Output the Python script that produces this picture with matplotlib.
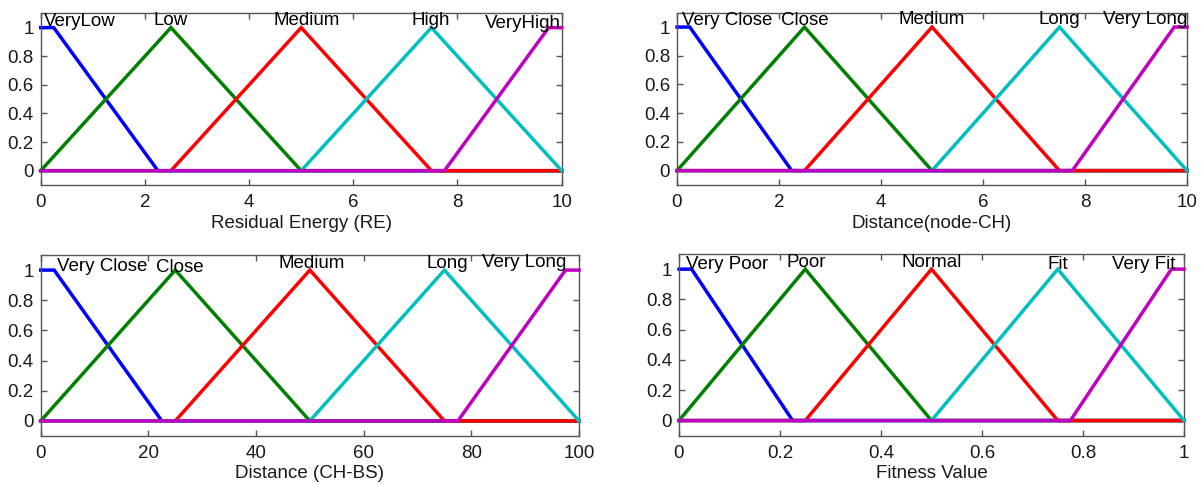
import matplotlib
matplotlib.use("Agg")
import matplotlib.pyplot as plt
import numpy as np

plt.rcParams['font.family'] = ['Liberation Sans', 'DejaVu Sans']

# ---------------- data ----------------
re_range = [0, 10]
re_names = ["VeryLow", "Low", "Medium", "High", "VeryHigh"]
re_params = [[0, 0, 0.25, 2.25], [0, 2.5, 2.5, 5], [2.5, 5, 5, 7.5],
             [5, 7.5, 7.5, 10], [7.75, 9.75, 10, 10]]
re_label = "Residual Energy (RE)"

dn_range = [0, 10]
dn_names = ["Very Close", "Close", "Medium", "Long", "Very Long"]
dn_params = [[0, 0, 0.25, 2.25], [0, 2.5, 2.5, 5], [2.5, 5, 5, 7.5],
             [5, 7.5, 7.5, 10], [7.75, 9.75, 10, 10]]
dn_label = "Distance(node-CH)"

db_range = [0, 100]
db_names = ["Very Close", "Close", "Medium", "Long", "Very Long"]
db_params = [[0, 0, 2.5, 22.5], [0, 25, 25, 50], [25, 50, 50, 75],
             [50, 75, 75, 100], [77.5, 97.5, 100, 100]]
db_label = "Distance (CH-BS)"

fv_range = [0, 1]
fv_names = ["Very Poor", "Poor", "Normal", "Fit", "Very Fit"]
fv_params = [[0, 0, 0.025, 0.225], [0, 0.25, 0.25, 0.5], [0.25, 0.5, 0.5, 0.75],
             [0.5, 0.75, 0.75, 1], [0.775, 0.975, 1, 1]]
fv_label = "Fitness Value"

xticks_10 = [0, 2, 4, 6, 8, 10]
xticks_100 = [0, 20, 40, 60, 80, 100]
xticks_1 = [0, 0.2, 0.4, 0.6, 0.8, 1]
xticklabels_1 = ["0", "0.2", "0.4", "0.6", "0.8", "1"]
yticks = [0, 0.2, 0.4, 0.6, 0.8, 1]
yticklabels = ["0", "0.2", "0.4", "0.6", "0.8", "1"]

# ---------------- style / layout ----------------
colors = ['#0000ff', '#008000', '#ff0000', '#00bfbf', '#bf00bf']
label_pos = {
    "re": [(0.755, 1.044), (2.5, 1.05), (5.1, 1.05), (7.49, 1.05), (9.26, 1.03)],
    "dn": [(0.99, 1.046), (2.5, 1.046), (4.99, 1.05), (7.49, 1.05), (9.18, 1.05)],
    "db": [(11.5, 1.024), (25.8, 1.02), (50.4, 1.046), (75.5, 1.046), (89.8, 1.05)],
    "fv": [(0.095, 1.03), (0.251, 1.046), (0.501, 1.046), (0.75, 1.03), (0.92, 1.03)],
}
W, H = 1201, 484
def rect(l, r, t, b):
    return [l / W, (H - b) / H, (r - l) / W, (b - t) / H]

axes_rects = {
    "re": rect(40.7, 561.7, 13.3, 185),
    "dn": rect(677, 1187, 12.7, 185),
    "db": rect(40.7, 579, 255, 436),
    "fv": rect(679, 1184, 254, 435.7),
}
FS = 13.5


def trap(x, a, b, c, d):
    if b <= x <= c:
        return 1.0
    if x < b:
        return 0.0 if x <= a else (x - a) / (b - a)
    return 0.0 if x >= d else (d - x) / (d - c)


def mf_curve(params, rng):
    pts = sorted(set([rng[0], rng[1]] + [p for p in params if rng[0] <= p <= rng[1]]))
    ys = [trap(x, *params) for x in pts]
    return pts, ys


fig = plt.figure(figsize=(W / 100, H / 100), dpi=100)
spine_col = '#555555'

panels = [
    ("re", re_range, re_names, re_params, re_label, xticks_10, [str(t) for t in xticks_10]),
    ("dn", dn_range, dn_names, dn_params, dn_label, xticks_10, [str(t) for t in xticks_10]),
    ("db", db_range, db_names, db_params, db_label, xticks_100, [str(t) for t in xticks_100]),
    ("fv", fv_range, fv_names, fv_params, fv_label, xticks_1, xticklabels_1),
]

for key, rng, names, params, xlabel, xt, xtl in panels:
    ax = fig.add_axes(axes_rects[key])
    for i, p in enumerate(params):
        xs, ys = mf_curve(p, rng)
        ax.plot(xs, ys, color=colors[i], lw=2.5, solid_joinstyle='miter', clip_on=False, zorder=2 + i)
    for name, (lx, ly) in zip(names, label_pos[key]):
        ax.text(lx, ly, name, ha='center', va='center', fontsize=FS, color='black', zorder=10)
    ax.set_xlim(rng)
    ax.set_ylim(-0.1, 1.1)
    ax.set_xticks(xt)
    ax.set_xticklabels(xtl)
    ax.set_yticks(yticks)
    ax.set_yticklabels(yticklabels)
    ax.tick_params(direction='in', top=True, right=True, length=4, width=1,
                   color=spine_col, labelsize=FS, labelcolor='#1a1a1a')
    ax.tick_params(axis='x', pad=6.5)
    ax.tick_params(axis='y', pad=5)
    for s in ax.spines.values():
        s.set_color(spine_col)
        s.set_linewidth(1)
    ax.set_xlabel(xlabel, fontsize=FS, labelpad=2.5, color='#1a1a1a')

fig.savefig("out.png", dpi=100)
